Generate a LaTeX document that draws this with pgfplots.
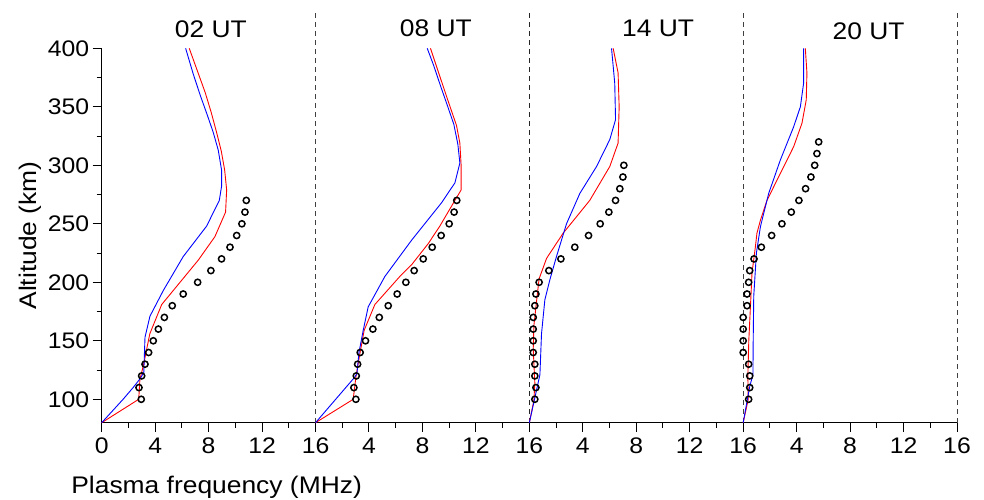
\documentclass[border=0pt]{standalone}
\usepackage{fontspec}
\setmainfont{Liberation Sans}[FakeStretch=1.1]
\usepackage{pgfplots}
\usepackage{pgfplotstable}
\pgfplotsset{compat=1.18}

% ---- 02 UT ----
\pgfplotstableread{
f h
0 80
2.77 100
2.86 117
3.14 130
3.6 156
4.49 181
7.23 219
8.47 239
9.27 260
9.35 279
9.2 296
8.95 312
8.6 328
8.2 345
7.75 362
7.15 381
6.55 400
}\redA
\pgfplotstableread{
f h
0 80
0.8 90
1.6 100
2.35 110
2.9 118
3.15 123
3.2 140
3.24 153
3.61 171
4.61 193
6.1 222
7.85 248
8.8 270
8.97 282
8.97 296
8.72 313
8.35 328
7.9 343
7.4 359
6.85 378
6.28 400
}\blueA
\pgfplotstableread{
f h
2.96 100
2.79 110
2.99 120
3.24 130
3.51 140
3.86 150
4.24 160
4.69 170
5.28 180
6.10 190
7.18 200
8.17 210
8.97 220
9.60 230
10.1 240
10.49 250
10.72 260
10.82 270
}\obsA
% ---- 08 UT ----
\pgfplotstableread{
f h
0 80
2.82 100
3.02 119
3.32 139
3.64 159
4.44 181
6.31 205
7.19 215
8.43 233
9.3 248
10.43 270
10.9 279
10.9 299
10.8 319
10.55 334
9.8 359
8.6 400
}\redB
\pgfplotstableread{
f h
0 80
2.94 119
3.1 122
3.25 140
3.57 159
3.94 179
5.19 205
7.19 236
9.43 268
10.43 285
10.8 302
10.65 318
10.35 335
9.9 350
9.35 368
8.85 385
8.36 400
}\blueB
\pgfplotstableread{
f h
3.02 100
2.87 110
3.05 120
3.15 130
3.34 140
3.74 150
4.29 160
4.77 170
5.44 180
6.11 190
6.76 200
7.38 210
8.06 220
8.73 230
9.40 240
10.0 250
10.37 260
10.57 270
}\obsB
% ---- 14 UT ----
\pgfplotstableread{
f h
0 80
0.34 99
0.41 114
0.29 143
0.34 163
0.55 185
0.73 203
1.29 220.5
2.53 242
4.52 270
6.02 299
6.64 319
6.72 350
6.64 379
6.27 400
}\redC
\pgfplotstableread{
f h
0 80
0.54 108
0.79 121
0.91 156
1.16 185
1.53 202
2.03 222
2.78 250
3.78 276
5.03 299
6.02 322
6.45 339
6.39 370
6.15 400
}\blueC
\pgfplotstableread{
f h
0.41 100
0.49 110
0.41 120
0.41 130
0.29 140
0.29 150
0.29 160
0.29 170
0.41 180
0.49 190
0.73 200
1.46 210
2.36 220
3.40 230
4.43 240
5.3 250
5.95 260
6.45 270
6.77 280
7.0 290
7.07 300
}\obsC
% ---- 20 UT ----
\pgfplotstableread{
f h
0 80
0.38 100
0.35 120
0.42 150
0.58 188
0.66 208
0.91 230
1.03 242
1.29 253
1.78 270
2.78 293
3.78 316
4.4 336
4.72 356
4.77 379
4.65 400
}\redD
\pgfplotstableread{
f h
0 80
0.49 111
0.73 121
0.75 150
0.79 188
0.99 225
1.29 247.5
1.91 276
2.78 304.5
3.78 333
4.28 350
4.52 370
4.52 400
}\blueD
\pgfplotstableread{
f h
0.41 100
0.49 110
0.49 120
0.41 130
0.0 140
0.0 150
0.0 160
0.0 170
0.29 180
0.29 190
0.41 200
0.49 210
0.81 220
1.36 230
2.13 240
2.9 250
3.6 260
4.17 270
4.67 280
5.07 290
5.35 300
5.52 310
5.65 320
}\obsD

\begin{document}
\begin{tikzpicture}
\begin{axis}[
  name=ax,
  at={(0,0)}, anchor=south west,
  scale only axis, width=855.3bp, height=374.4bp,
  xmin=0, xmax=64, ymin=80, ymax=400,
  axis x line*=bottom, axis y line*=left,
  axis line style={line width=1bp, black},
  xtick={0,4,...,64},
  xticklabels={0,4,8,12,16,4,8,12,16,4,8,12,16,4,8,12,16},
  minor x tick num=1,
  ytick={100,150,...,400}, minor y tick num=1,
  tick align=outside,
  major tick length=9bp, minor tick length=5bp,
  tick style={line width=1bp, black},
  /pgf/number format/assume math mode=true,
  tick label style={font=\fontsize{22.5bp}{26bp}\selectfont},
  xticklabel style={yshift=-3bp},
  clip=false,
  obs/.style={only marks, mark=o, mark size=3.1bp, mark options={line width=1.5bp, black}},
  redl/.style={red, line width=0.9bp},
  bluel/.style={blue, line width=0.9bp},
]
% separators
\addplot[black!75, line width=1bp, dash pattern=on 5bp off 4bp] coordinates {(16,80) (16,430)};
\addplot[black!85, line width=1bp, dash pattern=on 5bp off 4bp] coordinates {(32,80) (32,430)};
\addplot[black!75, line width=1bp, dash pattern=on 5bp off 4bp] coordinates {(48,80) (48,430)};
\addplot[black!75, line width=1bp, dash pattern=on 5bp off 4bp] coordinates {(64,80) (64,430)};
% 02 UT
\addplot[redl] table[x=f, y=h] {\redA};
\addplot[bluel] table[x=f, y=h] {\blueA};
\addplot[obs] table[x=f, y=h] {\obsA};
% 08 UT
\addplot[redl] table[x expr=\thisrow{f}+16, y=h] {\redB};
\addplot[bluel] table[x expr=\thisrow{f}+16, y=h] {\blueB};
\addplot[obs] table[x expr=\thisrow{f}+16, y=h] {\obsB};
% 14 UT
\addplot[redl] table[x expr=\thisrow{f}+32, y=h] {\redC};
\addplot[bluel] table[x expr=\thisrow{f}+32, y=h] {\blueC};
\addplot[obs] table[x expr=\thisrow{f}+32, y=h] {\obsC};
% 20 UT
\addplot[redl] table[x expr=\thisrow{f}+48, y=h] {\redD};
\addplot[bluel] table[x expr=\thisrow{f}+48, y=h] {\blueD};
\addplot[obs] table[x expr=\thisrow{f}+48, y=h] {\obsD};
% titles
\node[anchor=base, font=\fontsize{24bp}{28bp}\selectfont] at (axis cs:8.17,409.4) {02 UT};
\node[anchor=base, font=\fontsize{24bp}{28bp}\selectfont] at (axis cs:25.0,410.5) {08 UT};
\node[anchor=base, font=\fontsize{24bp}{28bp}\selectfont] at (axis cs:41.63,410.5) {14 UT};
\node[anchor=base, font=\fontsize{24bp}{28bp}\selectfont] at (axis cs:57.39,407.7) {20 UT};
% axis labels
\node[anchor=base, font=\fontsize{24bp}{28bp}\selectfont, inner sep=0pt] at (axis cs:8.6,19.5) {Plasma frequency (MHz)};
\node[anchor=base, rotate=90, font=\fontsize{24bp}{28bp}\selectfont, inner sep=0pt] at (axis cs:-4.86,240) {Altitude (km)};
\end{axis}
\pgfresetboundingbox
\useasboundingbox ([shift={(-101.7bp,-77.3bp)}]ax.south west) rectangle ([shift={(882.3bp,422.7bp)}]ax.south west);
\end{tikzpicture}
\end{document}
